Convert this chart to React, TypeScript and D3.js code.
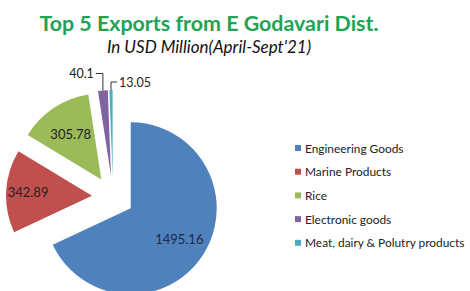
import * as d3 from "d3";

const categories = [
  "Engineering Goods",
  "Marine Products",
  "Rice",
  "Electronic goods",
  "Meat, dairy & Polutry products",
];
const values = [1495.16, 342.89, 305.78, 40.1, 13.05];
const labels = ["1495.16", "342.89", "305.78", "40.1", "13.05"];
const colors = ["#4f81bd", "#c0504d", "#9bbb59", "#8064a2", "#4bacc6"];
// radial position of each inside label, as a multiple of the radius
const labelPos = [1.34, 1.49, 1.28];

const W = 470;
const H = 291;
const cx = 113;
const cy = 197;
const radius = 86;
const explode = 21;
const font = "Lato, 'Open Sans', sans-serif";

export default function App() {
  const pie = d3
    .pie<number>()
    .sort(null)
    .value((d) => d)
    .startAngle(0)
    .endAngle(2 * Math.PI);
  const arcs = pie(values);
  const arc = d3.arc<d3.PieArcDatum<number>>().innerRadius(0).outerRadius(radius);

  const offset = (a: d3.PieArcDatum<number>) => {
    const m = (a.startAngle + a.endAngle) / 2;
    return [Math.sin(m) * explode, -Math.cos(m) * explode];
  };

  return (
    <svg
      width={W}
      height={H}
      style={{ position: "absolute", left: 0, top: 0, background: "#fff" }}
      fontFamily={font}
    >
      <text x={209} y={31} textAnchor="middle" fontSize={21.4} fontWeight="bold" fill="#22a354">
        Top 5 Exports from E Godavari Dist.
      </text>
      <text x={209} y={53} textAnchor="middle" fontSize={17} fontStyle="italic" fill="#111">
        In USD Million(April-Sept'21)
      </text>

      {arcs.map((a, i) => {
        const [dx, dy] = offset(a);
        return (
          <g key={categories[i]} transform={`translate(${cx + dx},${cy + dy})`}>
            <path d={arc(a) ?? ""} fill={colors[i]} />
          </g>
        );
      })}

      {arcs.map((a, i) => {
        const [dx, dy] = offset(a);
        if (i < 3) {
          const la = d3
            .arc<d3.PieArcDatum<number>>()
            .innerRadius(0)
            .outerRadius(radius * labelPos[i]);
          const [lx, ly] = la.centroid(a);
          return (
            <text
              key={"l" + i}
              x={cx + dx + lx}
              y={cy + dy + ly}
              textAnchor="middle"
              dominantBaseline="central"
              fontSize={13}
              fill={i === 0 ? "#1f2a44" : "#222"}
            >
              {labels[i]}
            </text>
          );
        }
        const m = (a.startAngle + a.endAngle) / 2;
        const ox = cx + dx + Math.sin(m) * radius;
        const oy = cy + dy - Math.cos(m) * radius;
        const left = i === 3;
        const ty = left ? oy - 17 : oy - 8;
        const tx = left ? ox - 7 : ox + 6;
        return (
          <g key={"l" + i}>
            <polyline
              points={`${ox},${oy} ${ox},${ty} ${tx},${ty}`}
              fill="none"
              stroke="#333"
              strokeWidth={1}
            />
            <text
              x={left ? tx - 2 : tx + 2}
              y={ty}
              textAnchor={left ? "end" : "start"}
              dominantBaseline="central"
              fontSize={12.5}
              fill="#222"
            >
              {labels[i]}
            </text>
          </g>
        );
      })}

      {categories.map((c, i) => (
        <g key={"lg" + i} transform={`translate(295,${148 + i * 23.7})`}>
          <rect x={0} y={-3} width={6} height={6} fill={colors[i]} />
          <text x={10} y={0} dominantBaseline="central" fontSize={11.9} fill="#222">
            {c}
          </text>
        </g>
      ))}
    </svg>
  );
}
